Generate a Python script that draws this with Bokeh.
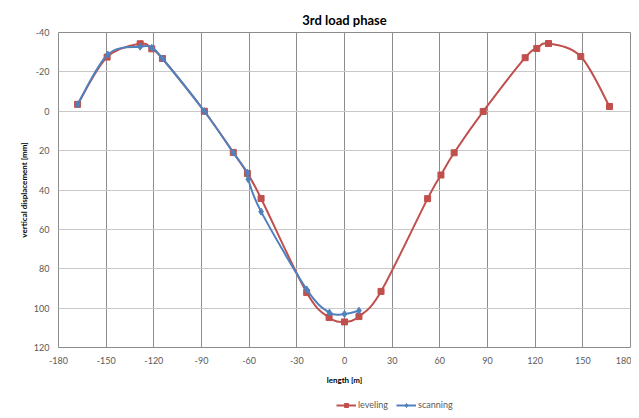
from bokeh.plotting import figure
from bokeh.layouts import column
from bokeh.models import Range1d, FixedTicker, Legend, LegendItem, ColumnDataSource
from bokeh.embed import file_html
from bokeh.resources import INLINE

# ---- data ----
lev_x = [-168, -149.4, -128.6, -121.3, -114.6, -88.2, -70, -61.1, -52.5, -23.8, -9.7, 0, 9.1, 23, 52.3, 60.7, 69, 87.3, 113.7, 121, 128.4, 148.7, 166.8]
lev_y = [-3.5, -27.5, -34.3, -31.7, -26.8, 0, 20.9, 31.6, 44.3, 92.1, 104.8, 107, 104.3, 91.5, 44.4, 32.4, 21.1, 0.1, -27.2, -31.9, -34.4, -27.8, -2.4]

scan_x = [-168, -149, -128.6, -121.3, -114.6, -88.2, -70, -61.1, -60.6, -52.5, -23.8, -9.5, 0, 9.1]
scan_y = [-3.5, -28.8, -32.8, -32.2, -26.8, 0, 21, 31.2, 34.5, 51, 90.5, 102.3, 103, 101.3]

x_ticks = [-180, -150, -120, -90, -60, -30, 0, 30, 60, 90, 120, 150, 180]
x_labels = ["-180", "-150", "-120", "-90", "-60", "-30", "0", "30", "60", "90", "120", "150", "180"]
y_ticks = [-40, -20, 0, 20, 40, 60, 80, 100, 120]
y_labels = ["-40", "-20", "0", "20", "40", "60", "80", "100", "120"]

RED = "#C0504D"
BLUE = "#4F81BD"
FONT = "Lato"
W = 631


def smooth(xs, ys):
    """Excel-like smoothed segments: control points from neighbouring data points."""
    n = len(xs)
    d = dict(x0=[], y0=[], x1=[], y1=[], cx0=[], cy0=[], cx1=[], cy1=[])
    for i in range(n - 1):
        a = i - 1 if i > 0 else i
        b = i + 2 if i + 2 < n else i + 1
        d["x0"].append(xs[i]); d["y0"].append(ys[i])
        d["x1"].append(xs[i + 1]); d["y1"].append(ys[i + 1])
        d["cx0"].append(xs[i] + (xs[i + 1] - xs[a]) / 6)
        d["cy0"].append(ys[i] + (ys[i + 1] - ys[a]) / 6)
        d["cx1"].append(xs[i + 1] - (xs[b] - xs[i]) / 6)
        d["cy1"].append(ys[i + 1] - (ys[b] - ys[i]) / 6)
    return ColumnDataSource(d)


p = figure(width=W, height=390, output_backend="svg", toolbar_location=None,
           x_range=Range1d(-180, 180), y_range=Range1d(120, -40),
           min_border_left=58, min_border_right=1, min_border_top=32, min_border_bottom=43,
           title="3rd load phase")

p.title.align = "center"
p.title.text_font = FONT
p.title.text_font_size = "13px"
p.title.text_font_style = "bold"
p.title.text_color = "#000000"

p.outline_line_color = "#8c8c8c"
p.background_fill_color = "white"
p.border_fill_color = "white"

p.xaxis.ticker = FixedTicker(ticks=x_ticks)
p.yaxis.ticker = FixedTicker(ticks=y_ticks)
p.xaxis.major_label_overrides = {t: l for t, l in zip(x_ticks, x_labels)}
p.yaxis.major_label_overrides = {t: l for t, l in zip(y_ticks, y_labels)}

for ax in (p.xaxis, p.yaxis):
    ax.axis_line_color = None
    ax.major_tick_line_color = None
    ax.minor_tick_line_color = None
    ax.major_tick_out = 0
    ax.major_tick_in = 0
    ax.minor_tick_out = 0
    ax.minor_tick_in = 0
    ax.major_label_text_font = FONT
    ax.major_label_text_font_size = "9px"
    ax.major_label_text_color = "#595959"
    ax.axis_label_text_font = FONT
    ax.axis_label_text_font_size = "8px"
    ax.axis_label_text_font_style = "bold"
    ax.axis_label_text_color = "#000000"

p.xaxis.major_label_standoff = 9
p.yaxis.major_label_standoff = 9
p.xaxis.axis_label = "length [m]"
p.yaxis.axis_label = "vertical displacement [mm]"
p.xaxis.axis_label_standoff = 8
p.yaxis.axis_label_standoff = 2

p.xgrid.grid_line_color = "#8c8c8c"
p.ygrid.grid_line_color = "#c8c8c8"
p.xgrid.ticker = FixedTicker(ticks=x_ticks)
p.ygrid.ticker = FixedTicker(ticks=y_ticks)

lev_src = smooth(lev_x, lev_y)
scan_src = smooth(scan_x, scan_y)

bez_kw = dict(x0="x0", y0="y0", x1="x1", y1="y1", cx0="cx0", cy0="cy0", cx1="cx1", cy1="cy1")
p.bezier(source=lev_src, line_color=RED, line_width=2, **bez_kw)
p.scatter(lev_x, lev_y, marker="square", size=6, fill_color=RED, line_color=RED)
p.bezier(source=scan_src, line_color=BLUE, line_width=2, **bez_kw)
p.scatter(scan_x, scan_y, marker="diamond", size=7, fill_color=BLUE, line_color=BLUE)

# ---- legend strip below the chart (its renderers lie outside the strip's view) ----
p2 = figure(width=W, height=24, output_backend="svg", toolbar_location=None,
            x_range=Range1d(1000, 1001), y_range=Range1d(1000, 1001),
            min_border_left=0, min_border_right=0, min_border_top=0, min_border_bottom=0)
p2.axis.visible = False
p2.grid.visible = False
p2.outline_line_color = None
p2.background_fill_color = "white"
p2.border_fill_color = "white"

l_lev = p2.line(lev_x, lev_y, line_color=RED, line_width=2)
s_lev = p2.scatter(lev_x, lev_y, marker="square", size=6, fill_color=RED, line_color=RED)
l_scan = p2.line(scan_x, scan_y, line_color=BLUE, line_width=2)
s_scan = p2.scatter(scan_x, scan_y, marker="diamond", size=7, fill_color=BLUE, line_color=BLUE)

legend = Legend(items=[LegendItem(label="leveling", renderers=[l_lev, s_lev]),
                       LegendItem(label="scanning", renderers=[l_scan, s_scan])],
                orientation="horizontal", location=(278, 4),
                label_text_font=FONT, label_text_font_size="9px", label_text_color="#595959",
                border_line_color=None, background_fill_alpha=0,
                glyph_width=20, glyph_height=10, spacing=8, padding=2, margin=0,
                label_standoff=2, label_height=10)
p2.add_layout(legend, "center")

layout = column(p, p2, spacing=0)

with open("out.html", "w") as f:
    f.write(file_html(layout, INLINE))
